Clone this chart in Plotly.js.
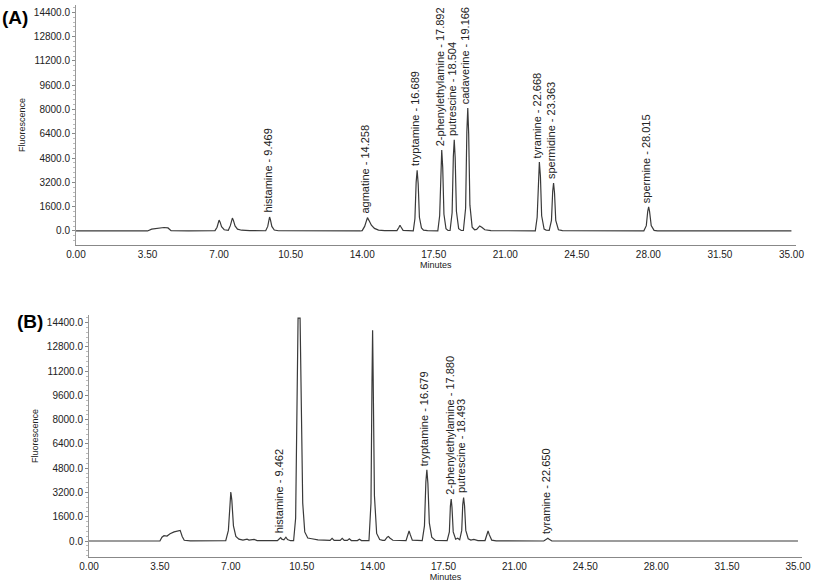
<!DOCTYPE html>
<html>
<head>
<meta charset="utf-8">
<script src="https://cdn.plot.ly/plotly-3.0.1.min.js"></script>
<style>
	html, body { margin: 0; padding: 0; background: #fff; }
	#gd { width: 813px; height: 583px; }
</style>
</head>
<body>
<div id="gd"></div>
<script>
"use strict";

/* ticks */
var xTicks = [0, 3.5, 7, 10.5, 14, 17.5, 21, 24.5, 28, 31.5, 35];
var yTicks = [0, 1600, 3200, 4800, 6400, 8000, 9600, 11200, 12800, 14400];

/* chromatogram (A), minutes / fluorescence */
var tA = [0, 1.5, 3.5, 3.7, 4.0, 4.3, 4.5, 4.65, 5.5, 6.8,
	6.9, 6.95, 7.0, 7.05, 7.12, 7.25, 7.4, 7.45, 7.55, 7.6, 7.65, 7.7, 7.78, 7.9, 8.1, 8.5,
	9.28, 9.38, 9.43, 9.469, 9.51, 9.58, 9.7, 9.9, 13.9,
	14.0, 14.12, 14.2, 14.258, 14.33, 14.45, 14.6, 14.8, 15.1,
	15.7, 15.8, 15.85, 15.9, 16.0,
	16.5, 16.58, 16.64, 16.689, 16.74, 16.8, 16.9, 17.0, 17.2,
	17.7, 17.79, 17.85, 17.892, 17.94, 18.0, 18.1, 18.2,
	18.3, 18.4, 18.46, 18.504, 18.55, 18.61, 18.72, 18.85,
	18.95, 19.06, 19.12, 19.166, 19.21, 19.27, 19.38, 19.5,
	19.6, 19.7, 19.75, 19.85, 20.0, 20.3, 22.3,
	22.47, 22.56, 22.62, 22.668, 22.72, 22.78, 22.9, 23.0,
	23.15, 23.26, 23.32, 23.363, 23.41, 23.47, 23.6, 23.8,
	27.78, 27.9, 27.97, 28.015, 28.06, 28.14, 28.28, 28.45, 35];
var fA = [0, 10, 0, 120, 180, 230, 200, 20, 10, 20,
	250, 550, 720, 580, 280, 80, 40, 40, 350, 700, 850, 700, 330, 120, 50, 20,
	15, 300, 750, 920, 740, 300, 60, 15, 0,
	20, 300, 750, 880, 700, 380, 170, 60, 20,
	20, 250, 380, 260, 40,
	10, 800, 3200, 4000, 3100, 900, 200, 60, 20,
	10, 1000, 4300, 5330, 4200, 1100, 150, 30,
	30, 1200, 4900, 6000, 4800, 1300, 150, 30,
	30, 1500, 6500, 8100, 6400, 1700, 250, 80,
	100, 280, 330, 250, 80, 20, 0,
	10, 900, 3700, 4540, 3600, 1000, 120, 60,
	40, 700, 2600, 3160, 2500, 700, 80, 20,
	10, 350, 1300, 1580, 1280, 350, 40, 10, 0];

/* chromatogram (B) */
var tB = [0, 1.5, 3.5, 3.6, 3.7, 3.85, 4.0, 4.2, 4.4, 4.5, 4.6, 4.7, 5.0,
	6.75, 6.88, 6.95, 7.0, 7.05, 7.13, 7.25, 7.4, 7.6, 7.8, 7.9, 8.15, 8.3,
	9.3, 9.4, 9.462, 9.52, 9.62, 9.72, 9.8, 9.95,
	10.1, 10.2, 10.27, 10.32, 10.42, 10.48, 10.55, 10.65, 10.8, 11.0, 11.3,
	11.9, 12.0, 12.1, 12.4, 12.5, 12.6, 12.75, 12.85, 12.95, 13.25, 13.35, 13.45,
	13.82, 13.92, 13.97, 14.0, 14.03, 14.09, 14.2, 14.35, 14.5,
	14.6, 14.72, 14.78, 14.85, 15.0,
	15.65, 15.75, 15.8, 15.86, 15.96,
	16.45, 16.56, 16.63, 16.679, 16.73, 16.8, 16.92, 17.1,
	17.68, 17.79, 17.84, 17.88, 17.92, 17.98, 18.1, 18.2, 18.3,
	18.4, 18.45, 18.493, 18.54, 18.6, 18.72, 18.85, 19.0, 19.2,
	19.55, 19.65, 19.7, 19.76, 19.88, 20.1,
	22.45, 22.58, 22.65, 22.72, 22.85, 35];
var fB = [0, 10, 0, 250, 350, 330, 480, 600, 650, 700, 300, 50, 10,
	20, 700, 2600, 3230, 2700, 1000, 300, 120, 60, 120, 60, 100, 30,
	20, 150, 220, 120, 80, 250, 100, 20,
	20, 1500, 8000, 14700, 14700, 8500, 2500, 600, 200, 150, 80,
	40, 170, 40, 40, 170, 40, 40, 150, 30, 30, 120, 30,
	20, 2500, 10500, 13900, 10500, 3000, 500, 100, 40,
	40, 250, 300, 200, 50,
	20, 400, 660, 420, 60,
	20, 1000, 3900, 4690, 3800, 1200, 250, 40,
	20, 600, 2300, 2770, 2200, 600, 120, 180, 80,
	700, 2400, 2870, 2300, 700, 150, 60, 100, 30,
	30, 400, 660, 420, 60, 10,
	0, 120, 180, 110, 0, 0];

/* peak labels */
var namesA = ["histamine", "agmatine", "tryptamine", "2-phenylethylamine", "putrescine",
	"cadaverine", "tyramine", "spermidine", "spermine"];
var rtA = [9.469, 14.258, 16.689, 17.892, 18.504, 19.166, 22.668, 23.363, 28.015];
var namesB = ["histamine", "tryptamine", "2-phenylethylamine", "putrescine", "tyramine"];
var rtB = [9.462, 16.679, 17.880, 18.493, 22.650];

var gd;

function peak_height(t, f, rt)
{
	var i = t.indexOf(rt);
	return f[i];
}

function make_labels(names, rt, t, f, xref, yref)
{
	var out = [];
	for (var i = 0; i < names.length; i++)
	{
		out.push({
			x: rt[i], y: peak_height(t, f, rt[i]),
			xref: xref, yref: yref,
			text: names[i] + " - " + rt[i].toFixed(3),
			textangle: -90,
			showarrow: false,
			xanchor: 'center', yanchor: 'bottom',
			xshift: -2, yshift: 2,
			font: {family: 'Liberation Sans, Arial, sans-serif', size: 11, color: '#222'}
		});
	}
	return out;
}

function x_axis(domain, anchor)
{
	return {
		domain: domain, anchor: anchor,
		range: [0, 35.2],
		tickvals: xTicks,
		ticktext: xTicks.map(function (v) { return v.toFixed(2); }),
		ticks: '', showgrid: false, zeroline: false,
		showline: true, linecolor: '#888', linewidth: 1,
		tickfont: {family: 'Liberation Sans, Arial, sans-serif', size: 10, color: '#222'},
		title: {text: 'Minutes', standoff: 2, font: {family: 'Liberation Sans, Arial, sans-serif', size: 9, color: '#222'}}
	};
}

function y_axis(domain, anchor, range)
{
	return {
		domain: domain, anchor: anchor,
		range: range,
		tickvals: yTicks,
		ticktext: yTicks.map(function (v) { return v.toFixed(1); }),
		ticks: 'outside', ticklen: 3, tickcolor: '#888',
		minor: {dtick: 320, ticks: 'outside', ticklen: 2, tickcolor: '#bbb'},
		showgrid: false, zeroline: false,
		showline: true, linecolor: '#999', linewidth: 1,
		tickfont: {family: 'Liberation Sans, Arial, sans-serif', size: 10, color: '#222'},
		title: {text: 'Fluorescence', standoff: 6, font: {family: 'Liberation Sans, Arial, sans-serif', size: 9, color: '#222'}}
	};
}

function chrom_main()
{
	gd = document.getElementById("gd");

	var traceA = {
		x: tA, y: fA, xaxis: 'x', yaxis: 'y',
		type: 'scatter', mode: 'lines',
		line: {color: '#3a3a3a', width: 1.2},
		hoverinfo: 'none'
	};
	var traceB = {
		x: tB, y: fB, xaxis: 'x2', yaxis: 'y2',
		type: 'scatter', mode: 'lines',
		line: {color: '#3a3a3a', width: 1.2},
		hoverinfo: 'none'
	};

	var notes = make_labels(namesA, rtA, tA, fA, 'x', 'y')
		.concat(make_labels(namesB, rtB, tB, fB, 'x2', 'y2'));

	notes.push({x: 0.0, y: 0.97, xref: 'paper', yref: 'paper', text: '<b>(A)</b>',
		showarrow: false, xanchor: 'left', yanchor: 'middle',
		font: {family: 'Liberation Sans, Arial, sans-serif', size: 19, color: '#000'}});
	notes.push({x: 0.018, y: 0.448, xref: 'paper', yref: 'paper', text: '<b>(B)</b>',
		showarrow: false, xanchor: 'left', yanchor: 'middle',
		font: {family: 'Liberation Sans, Arial, sans-serif', size: 19, color: '#000'}});

	var layout = {
		width: 813, height: 583,
		margin: {l: 0, r: 0, t: 0, b: 0, pad: 0},
		paper_bgcolor: '#fff', plot_bgcolor: '#fff',
		showlegend: false,
		xaxis: x_axis([0.0935, 0.9785], 'y'),
		yaxis: y_axis([0.5798, 0.9914], 'x', [-922, 14880]),
		xaxis2: x_axis([0.1095, 0.9865], 'y2'),
		yaxis2: y_axis([0.0446, 0.4597], 'x2', [-1055, 14908]),
		annotations: notes
	};

	Plotly.newPlot(gd, [traceA, traceB], layout, {staticPlot: true});
}

chrom_main();
</script>
</body>
</html>
